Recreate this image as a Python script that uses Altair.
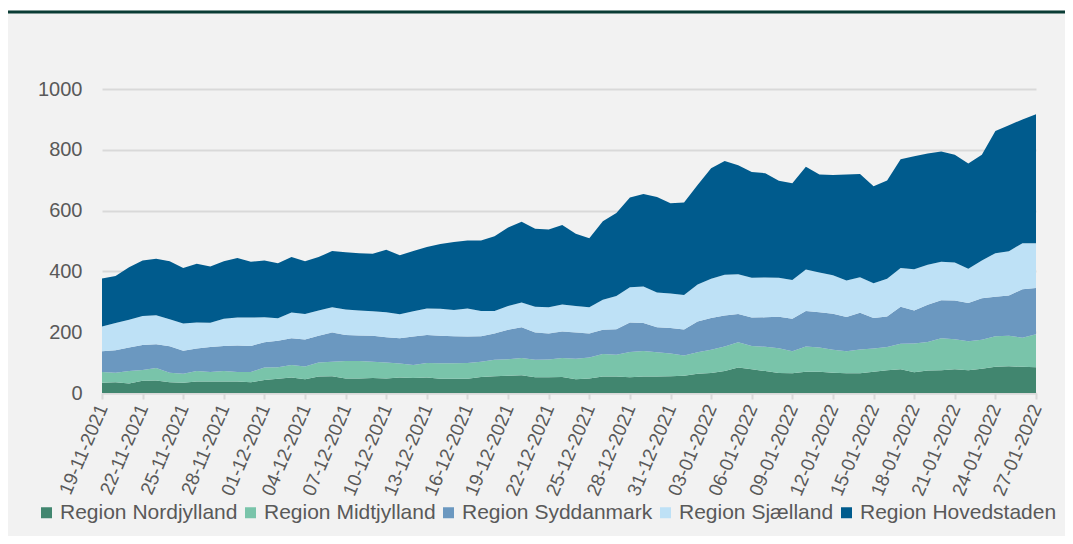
import altair as alt
import pandas as pd

dates = [d.strftime("%d-%m-%Y") for d in pd.date_range("2021-11-19", "2022-01-27", freq="D")]
tick_dates = dates[::3]

regions = ["Region Nordjylland", "Region Midtjylland", "Region Syddanmark",
           "Region Sjælland", "Region Hovedstaden"]
colors = ["#41866F", "#79C4AA", "#6B98C0", "#BEE1F6", "#005B8D"]

nordjylland = [34, 35, 31, 40, 41, 35, 34, 38, 38, 38, 38, 35, 43, 47,
               51, 45, 54, 55, 48, 48, 49, 48, 51, 49, 51, 47, 47, 47,
               53, 55, 57, 58, 52, 52, 53, 45, 48, 54, 54, 52, 54, 54,
               55, 57, 63, 66, 72, 84, 78, 72, 66, 65, 70, 70, 67, 65,
               65, 70, 75, 78, 68, 74, 75, 78, 75, 80, 86, 88, 86, 85]
midtjylland = [35, 32, 41, 36, 41, 32, 29, 34, 31, 34, 31, 34, 41, 38,
               41, 42, 46, 48, 57, 57, 54, 52, 46, 43, 48, 51, 51, 52,
               50, 54, 54, 57, 57, 58, 62, 68, 69, 74, 72, 83, 84, 80,
               75, 66, 71, 76, 81, 83, 77, 80, 81, 72, 83, 80, 75, 72,
               78, 76, 76, 84, 95, 94, 105, 99, 95, 95, 101, 100, 96, 108]
syddanmark = [68, 74, 78, 82, 78, 87, 76, 74, 82, 83, 87, 86, 83, 87,
              88, 89, 88, 96, 86, 84, 85, 83, 83, 94, 92, 90, 89, 87,
              84, 87, 97, 101, 90, 86, 87, 86, 79, 80, 84, 97, 92, 82,
              84, 86, 101, 105, 102, 93, 93, 97, 104, 107, 117, 116, 119, 113,
              121, 101, 101, 122, 108, 122, 125, 127, 126, 137, 130, 133, 159, 152]
sjaelland = [82, 89, 91, 95, 96, 89, 90, 86, 80, 89, 92, 93, 82, 74,
             85, 84, 83, 83, 84, 82, 81, 83, 79, 83, 87, 89, 86, 92,
             83, 74, 78, 82, 85, 86, 89, 87, 86, 99, 109, 116, 120, 115,
             113, 113, 122, 129, 134, 131, 131, 131, 128, 128, 136, 130, 126, 120,
             117, 114, 124, 127, 136, 132, 127, 125, 113, 124, 143, 145, 152, 148]
hovedstaden = [158, 155, 173, 183, 186, 190, 182, 193, 185, 189, 196, 184, 187, 181,
               182, 173, 176, 185, 188, 189, 189, 205, 194, 198, 202, 213, 224, 224,
               232, 246, 258, 265, 256, 256, 262, 238, 227, 258, 273, 295, 305, 314,
               297, 305, 327, 363, 374, 358, 348, 343, 319, 318, 338, 323, 330, 349,
               339, 319, 323, 358, 372, 366, 362, 355, 346, 348, 402, 415, 407, 424]

series = [nordjylland, midtjylland, syddanmark, sjaelland, hovedstaden]

rows = []
for k, (name, vals) in enumerate(zip(regions, series)):
    for d, v in zip(dates, vals):
        rows.append({"date": d, "region": name, "value": v, "ord": k})
df = pd.DataFrame(rows)

FONT = "Liberation Sans"
TXT = "#595959"

area = alt.Chart(df).mark_area(interpolate="linear").encode(
    x=alt.X("date:O", sort=dates,
            scale=alt.Scale(type="point", padding=0),
            axis=alt.Axis(values=tick_dates, labelAngle=-67, title=None,
                          labelFontSize=19, labelColor=TXT, labelFont=FONT,
                          domainColor="#d9d9d9", domainWidth=2,
                          tickColor="#d9d9d9", tickWidth=2, tickSize=6,
                          labelPadding=6, grid=False)),
    y=alt.Y("value:Q", stack="zero",
            scale=alt.Scale(domain=[0, 1000], nice=False),
            axis=alt.Axis(values=[0, 200, 400, 600, 800, 1000], title=None,
                          format="d",
                          labelFontSize=20, labelColor=TXT, labelFont=FONT,
                          domain=False, ticks=False, labelPadding=20,
                          grid=True, gridColor="#d9d9d9", gridWidth=2)),
    color=alt.Color("region:N",
                    scale=alt.Scale(domain=regions, range=colors),
                    legend=alt.Legend(title=None, orient="none", direction="horizontal",
                                      legendX=-66, legendY=413,
                                      symbolType="square", symbolSize=121,
                                      symbolStrokeWidth=0, labelFontSize=21,
                                      labelFont=FONT, labelColor=TXT,
                                      labelOffset=3, columnPadding=2,
                                      padding=0, labelLimit=400)),
    order=alt.Order("ord:Q", sort="ascending"),
)

marker = pd.DataFrame({"k": [0]})
white_top = alt.Chart(marker).mark_rule(color="#ffffff", strokeWidth=3).encode(
    x=alt.value(-100), x2=alt.value(980), y=alt.value(-80))
dark_top = alt.Chart(marker).mark_rule(color="#0a3c35", strokeWidth=3).encode(
    x=alt.value(-100), x2=alt.value(980), y=alt.value(-77))

chart = alt.layer(area, white_top, dark_top).properties(
    width=934, height=304,
    padding={"left": 94, "top": 81, "right": 29, "bottom": 143},
    autosize=alt.AutoSizeParams(type="none"),
    background="#f2f2f2",
).configure_view(stroke=None)

chart.save("out.html", embed_options={"renderer": "svg", "actions": False})
